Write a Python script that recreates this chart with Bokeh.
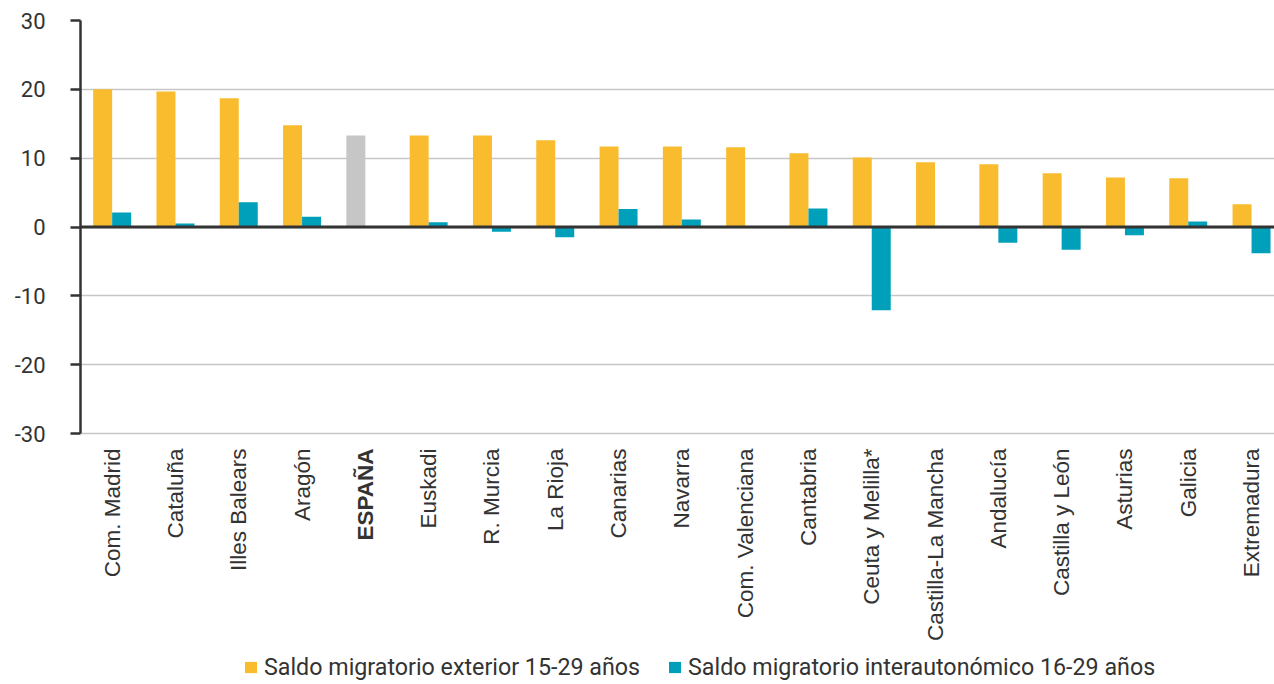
import math
from bokeh.plotting import figure
from bokeh.models import Range1d, FixedTicker, Span, Legend, LegendItem, ColumnDataSource
from bokeh.core.properties import value
from bokeh.embed import file_html
from bokeh.resources import INLINE

regions = ["Com. Madrid", "Cataluña", "Illes Balears", "Aragón", "ESPAÑA", "Euskadi",
           "R. Murcia", "La Rioja", "Canarias", "Navarra", "Com. Valenciana", "Cantabria",
           "Ceuta y Melilla*", "Castilla-La Mancha", "Andalucía", "Castilla y León",
           "Asturias", "Galicia", "Extremadura"]
exterior = [20.0, 19.7, 18.7, 14.8, 13.3, 13.3, 13.3, 12.6, 11.7, 11.7, 11.6, 10.7,
            10.1, 9.4, 9.1, 7.8, 7.2, 7.1, 3.3]
interauton = [2.1, 0.5, 3.6, 1.5, 0.0, 0.7, -0.7, -1.5, 2.6, 1.1, 0.0, 2.7,
              -12.1, 0.0, -2.3, -3.3, -1.2, 0.8, -3.8]
y_ticks = [-30, -20, -10, 0, 10, 20, 30]
series_names = ["Saldo migratorio exterior 15-29 años",
                "Saldo migratorio interautonómico 16-29 años"]
total_label = "ESPAÑA"

YELLOW = "#F9BC2E"
TEAL = "#00A0BB"
GREY = "#C6C6C6"
DARK = "#333333"

W, H = 1274, 684
TOP, LEFT = 20, 80
AXIS_PX = 413          # pixel height of the -30..30 value band
CAT_PX = 63.3          # pixel width of one category slot
BAR_W = 0.3            # bar width, in category units
ymin_v, ymax_v = min(y_ticks), max(y_ticks)
y_low = ymax_v - (ymax_v - ymin_v) * (H - TOP) / AXIS_PX
x_high = (W - LEFT) / CAT_PX

n = len(regions)
centers = [i + 0.5 for i in range(n)]
ext_colors = [GREY if r == total_label else YELLOW for r in regions]
label_styles = ["bold" if r == total_label else "normal" for r in regions]
src = ColumnDataSource(dict(region=regions, xc=centers,
                            xe=[c - BAR_W / 2 for c in centers],
                            xi=[c + BAR_W / 2 for c in centers],
                            ext=exterior, inter=interauton,
                            ecol=ext_colors, fstyle=label_styles,
                            base=[ymin_v] * n))

p = figure(width=W, height=H, output_backend="svg", toolbar_location=None,
           x_range=Range1d(0, x_high), y_range=Range1d(y_low, ymax_v),
           min_border_left=LEFT, min_border_right=0, min_border_top=TOP, min_border_bottom=0)
p.outline_line_color = None
p.background_fill_color = "white"
p.xaxis.visible = False

r1 = p.vbar(x="xe", top="ext", bottom=0, width=BAR_W, source=src,
            fill_color="ecol", line_color=None)
r2 = p.vbar(x="xi", top="inter", bottom=0, width=BAR_W, source=src,
            fill_color=TEAL, line_color=None)

p.xgrid.grid_line_color = None
p.ygrid.grid_line_color = "#C6C6C6"
p.ygrid.grid_line_width = 1.5

p.yaxis.ticker = FixedTicker(ticks=y_ticks)
p.yaxis.major_label_overrides = {t: str(t) for t in y_ticks}
p.yaxis.bounds = (ymin_v, ymax_v)
p.yaxis.axis_line_color = DARK
p.yaxis.axis_line_width = 2.5
p.yaxis.major_tick_line_color = DARK
p.yaxis.major_tick_line_width = 2.5
p.yaxis.major_tick_out = 10
p.yaxis.major_tick_in = 0
p.yaxis.minor_tick_line_color = None
p.yaxis.major_label_text_font = "Roboto"
p.yaxis.major_label_text_font_size = "22px"
p.yaxis.major_label_text_color = DARK
p.yaxis.major_label_standoff = 25

p.add_layout(Span(location=0, dimension="width", line_color=DARK, line_width=3))

# category labels (vertical, reading bottom-to-top), ESPAÑA in bold
p.text(x="xc", y="base", text="region", source=src, angle=math.pi / 2,
       text_align="right", text_baseline="middle", y_offset=15,
       text_font=value("Liberation Sans"), text_font_size=value("22.5px"),
       text_font_style="fstyle", text_color=DARK)

legend = Legend(items=[LegendItem(label=series_names[0], renderers=[r1], index=0),
                       LegendItem(label=series_names[1], renderers=[r2], index=0)],
                orientation="horizontal", location=(163, 3),
                label_text_font="Roboto", label_text_font_size="23.25px",
                label_text_color=DARK, glyph_width=15, glyph_height=14,
                label_height=20, label_standoff=6, spacing=27, padding=0, margin=0,
                border_line_color=None, background_fill_alpha=0)
p.add_layout(legend, "center")

open("out.html", "w").write(file_html(p, INLINE))
